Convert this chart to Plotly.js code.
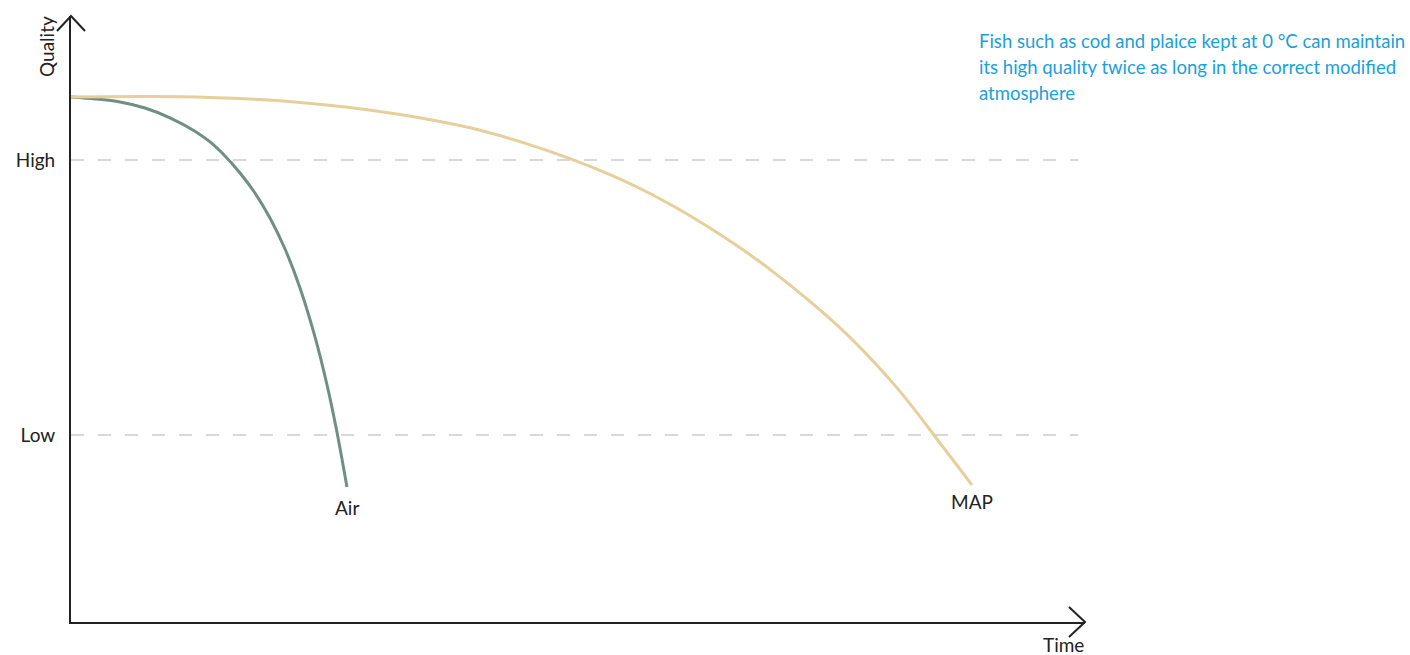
<!DOCTYPE html>
<html>
<head>
<meta charset="utf-8">
<script src="https://cdn.plot.ly/plotly-3.0.1.min.js"></script>
<style>html,body{margin:0;padding:0;background:#fff;}#chart{width:1410px;height:655px;}</style>
</head>
<body>
<div id="chart"></div>
<script>
// ---- data (time in arbitrary units 0..100, quality in arbitrary units 0..100) ----
const airTime    = [0, 2.37, 4.84, 7.31, 9.78, 12.25, 13.74, 15.22, 16.70, 18.18, 19.66, 21.15, 22.63, 24.11, 25.30, 26.28, 27.27];
const airQuality = [86.9, 86.57, 86.07, 85.07, 83.45, 81.23, 79.44, 77.11, 74.3, 70.98, 66.83, 61.69, 55.22, 47.1, 39.14, 31.34, 22.22];
const mapTime    = [0, 7.81, 13.74, 18.68, 22.63, 27.57, 32.51, 36.46, 40.42, 44.37, 49.31, 53.26, 56.23, 59.68, 63.14, 66.11, 69.07, 73.02, 76.98, 81.92, 85.87, 89.03];
const mapQuality = [86.9, 86.97, 86.83, 86.47, 85.99, 85.14, 83.98, 82.82, 81.39, 79.49, 76.67, 74.01, 71.72, 68.66, 65.17, 61.89, 58.31, 53.0, 47.03, 38.08, 29.52, 22.55];
const seriesNames = ["Air", "MAP"];
const levelValues = [76.45, 30.85];
const levelLabels = ["High", "Low"];
const axisTitles = {x: "Time", y: "Quality"};
const noteLines = [
  "Fish such as cod and plaice kept at 0 °C can maintain",
  "its high quality twice as long in the correct modified",
  "atmosphere"
];

// ---- layout geometry ----
const W = 1410, H = 655;
const L = 71, R = 325, T = 16, B = 33;
const PW = W - L - R, PH = H - T - B;
const px = x => (x - L) / PW;          // pixel -> paper x
const py = y => (H - B - y) / PH;      // pixel -> paper y
const FONT = "Lato, 'Noto Sans', sans-serif";
const DARK = "#222222";

const traces = [
  {x: airTime, y: airQuality, name: seriesNames[0], mode: "lines",
   line: {color: "#6f8f85", width: 3, shape: "spline", smoothing: 0.8}, hoverinfo: "skip"},
  {x: mapTime, y: mapQuality, name: seriesNames[1], mode: "lines",
   line: {color: "#e6cf9b", width: 3, shape: "spline", smoothing: 0.8}, hoverinfo: "skip"}
];

const shapes = levelValues.map(v => ({
  type: "line", xref: "paper", yref: "y", x0: 0, x1: px(1078), y0: v, y1: v,
  line: {color: "#cccccc", width: 1.5, dash: "13px,14px"}, layer: "below"
}));
// axis arrowheads (open chevrons)
shapes.push({type: "path", xref: "paper", yref: "paper",
  path: `M ${px(57)},${py(31)} L ${px(71)},${py(16)} L ${px(85)},${py(31)}`,
  line: {color: DARK, width: 2}});
shapes.push({type: "path", xref: "paper", yref: "paper",
  path: `M ${px(1069)},${py(607)} L ${px(1085)},${py(622)} L ${px(1069)},${py(637)}`,
  line: {color: DARK, width: 2}});

const annotations = [
  {x: airTime[airTime.length - 1], y: airQuality[airQuality.length - 1], xref: "x", yref: "y",
   text: seriesNames[0], showarrow: false, yshift: -21, xanchor: "center", yanchor: "middle",
   font: {family: FONT, size: 19, color: DARK}},
  {x: mapTime[mapTime.length - 1], y: mapQuality[mapQuality.length - 1], xref: "x", yref: "y",
   text: seriesNames[1], showarrow: false, yshift: -16, xanchor: "center", yanchor: "middle",
   font: {family: FONT, size: 19, color: DARK}},
  {x: px(46), y: py(47), xref: "paper", yref: "paper", text: axisTitles.y, textangle: -90,
   showarrow: false, xanchor: "center", yanchor: "middle",
   font: {family: FONT, size: 19, color: DARK}},
  {x: px(1063), y: py(644), xref: "paper", yref: "paper", text: axisTitles.x,
   showarrow: false, xanchor: "center", yanchor: "middle",
   font: {family: FONT, size: 19, color: DARK}}
];
noteLines.forEach((t, i) => annotations.push({
  x: px(977), y: py(41 + 26 * i), xref: "paper", yref: "paper", text: t,
  showarrow: false, xanchor: "left", yanchor: "middle", align: "left",
  font: {family: FONT, size: 18.5, color: "#1a9fdb"}
}));

const layout = {
  width: W, height: H,
  margin: {l: L, r: R, t: T, b: B, pad: 0},
  paper_bgcolor: "#ffffff", plot_bgcolor: "#ffffff",
  showlegend: false,
  xaxis: {range: [0, 100.2], showgrid: false, zeroline: false, showticklabels: false,
          ticks: "", showline: true, linecolor: DARK, linewidth: 2, fixedrange: true},
  yaxis: {range: [-0.17, 100.33], showgrid: false, zeroline: false,
          tickmode: "array", tickvals: levelValues, ticktext: levelLabels,
          ticks: "", ticklabelstandoff: 10,
          tickfont: {family: FONT, size: 19, color: DARK},
          showline: true, linecolor: DARK, linewidth: 2, fixedrange: true},
  shapes: shapes,
  annotations: annotations
};

Plotly.newPlot("chart", traces, layout, {staticPlot: true, displayModeBar: false});
</script>
</body>
</html>
